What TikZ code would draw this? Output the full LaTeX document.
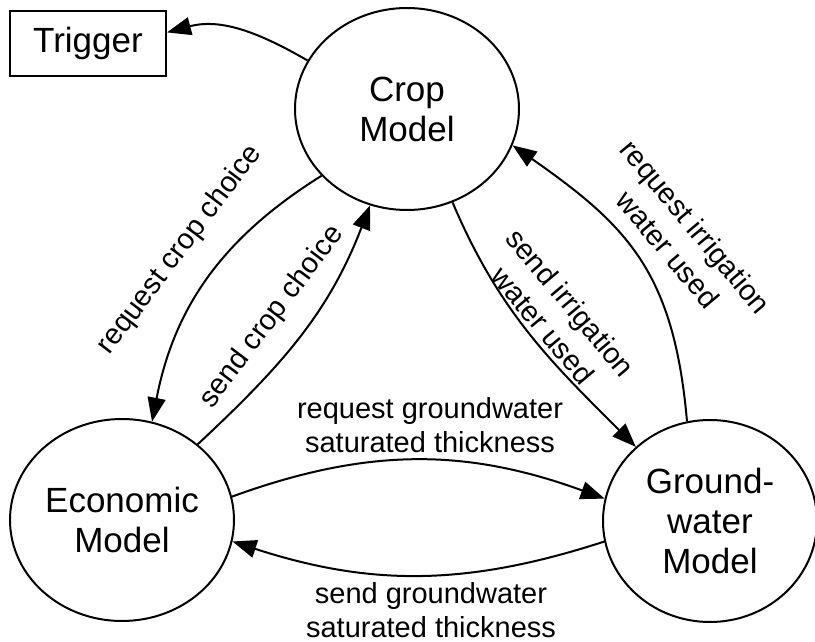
\documentclass[tikz,border=0pt]{standalone}
\usepackage{fontspec}
\setmainfont{Liberation Sans}
\usetikzlibrary{shapes.geometric,arrows.meta}
\begin{document}
\begin{tikzpicture}[x=1pt,y=1pt,
  model/.style={draw, ellipse, line width=2pt, minimum width=224pt, minimum height=202pt, inner sep=0pt, align=center, font=\fontsize{35}{40}\selectfont},
  trig/.style={draw, rectangle, line width=2pt, minimum width=156pt, minimum height=65pt, inner sep=0pt, font=\fontsize{35}{40}\selectfont},
  conn/.style={line width=2pt, -{Triangle[length=24pt,width=18pt]}},
  lab/.style={align=center, font=\fontsize{29}{34}\selectfont, inner sep=0pt},
  rlab/.style={align=center, font=\fontsize{29}{36}\selectfont, inner sep=0pt}]
\useasboundingbox (0,0) rectangle (815,-642);
\node[model] (crop) at (407,-109) {Crop\\Model};
\node[model] (econ) at (122,-520) {Economic\\Model};
\node[model, minimum width=214pt] (gw) at (710,-521) {Ground-\\water\\Model};
\node[trig] (trig) at (88,-43.5) {Trigger};
\draw[conn] (crop.154) to[out=150,in=15] (trig.8);
\draw[conn] (crop.218) to[out=212,in=79] (econ.73);
\draw[conn] (econ.45) to[out=43,in=249] (crop.249);
\draw[conn] (crop.296) to[out=293,in=135] (gw.135);
\draw[conn] (gw.103) .. controls +(95:150) and +(325:140) .. (crop.341);
\draw[conn] (econ.12) to[out=20,in=160] (gw.168);
\draw[conn] (gw.191) to[out=198,in=342] (econ.349);
\node[rlab, rotate=53] (l1) at (180,-250) {request crop choice};
\node[rlab, rotate=53] (l2) at (272,-317) {send crop choice};
\node[rlab, rotate=-50] (l3) at (557,-314) {send irrigation\\water used};
\node[rlab, rotate=-50] (l4) at (682,-238) {request irrigation\\water used};
\node[lab] (l5) at (430,-425) {request groundwater\\saturated thickness};
\node[lab] (l6) at (431,-610) {send groundwater\\saturated thickness};
\end{tikzpicture}
\end{document}
